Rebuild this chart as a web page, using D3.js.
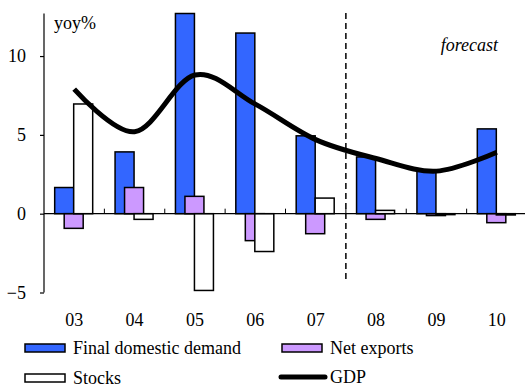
<!DOCTYPE html>
<html><head><meta charset="utf-8">
<script src="https://cdn.jsdelivr.net/npm/d3@7"></script>
<style>
body{margin:0;background:#fff;}
svg text{font-family:'Liberation Serif','Times New Roman',serif !important;}
</style></head>
<body><svg id="c" width="525" height="385" font-family="Liberation Serif"></svg>
<script>
const categories = ["03","04","05","06","07","08","09","10"];
const finalDomesticDemand = [1.66, 3.92, 12.7, 11.46, 4.94, 3.6, 2.7, 5.38];
const netExports = [-0.93, 1.66, 1.1, -1.71, -1.27, -0.36, -0.12, -0.57];
const stocks = [6.96, -0.36, -4.87, -2.4, 0.99, 0.21, -0.06, -0.08];
const gdp = [7.9, 5.2, 8.8, 6.95, 4.7, 3.5, 2.7, 3.9];
const yTicks = [-5, 0, 5, 10];

const FONT = "'Liberation Serif'";
const svg = d3.select("#c");
const x = d3.scaleBand().domain(categories).range([44, 527]).padding(0);
const y = d3.scaleLinear().domain([-5, 12.7]).range([292.5, 13.5]);
const bw = x.bandwidth();
const barW = 19;
const cx = d => x(d) + bw / 2;

function txt(sel) {
  return sel.style("font-family", FONT).style("font-size", "18px").attr("fill", "#000");
}

// bars
const series = [
  {vals: finalDomesticDemand, fill: "#3366FF", off: -19.5},
  {vals: netExports, fill: "#CC99FF", off: -10},
  {vals: stocks, fill: "#FFFFFF", off: -0.5}
];
series.forEach(s => {
  svg.append("g").selectAll("rect").data(categories).join("rect")
    .attr("x", (d) => cx(d) + s.off)
    .attr("width", barW)
    .attr("y", (d, i) => y(Math.max(0, s.vals[i])))
    .attr("height", (d, i) => Math.abs(y(s.vals[i]) - y(0)))
    .attr("fill", s.fill)
    .attr("stroke", "#000")
    .attr("stroke-width", 1.5);
});

// zero axis line
svg.append("line").attr("x1", 44).attr("x2", 527).attr("y1", y(0)).attr("y2", y(0))
  .attr("stroke", "#000").attr("stroke-width", 1.2);
// x ticks at band boundaries
svg.append("g").selectAll("line").data(categories.slice(1)).join("line")
  .attr("x1", d => x(d)).attr("x2", d => x(d))
  .attr("y1", y(0)).attr("y2", y(0) - 5)
  .attr("stroke", "#000").attr("stroke-width", 1);

// y axis
const yAxis = d3.axisLeft(y).tickValues(yTicks).tickSize(4).tickPadding(14).tickFormat(d3.format("d"));
const ga = svg.append("g").attr("transform", "translate(44,0)").call(yAxis);
ga.attr("font-family", null).attr("font-size", null);
ga.select(".domain").attr("stroke-width", 1.2).attr("d", `M0,${y(12.7)}V${y(-5)}`);
txt(ga.selectAll(".tick text"));
ga.selectAll(".tick line").attr("stroke-width", 1.2);

// x labels
txt(svg.append("g").selectAll("text").data(categories).join("text")
  .attr("x", d => cx(d)).attr("y", 326).attr("text-anchor", "middle").text(d => d));

// GDP line
const line = d3.line().x((d, i) => cx(categories[i])).y(d => y(d)).curve(d3.curveCardinal.tension(0));
svg.append("path").datum(gdp).attr("d", line).attr("fill", "none")
  .attr("stroke", "#000").attr("stroke-width", 5).attr("stroke-linejoin", "round");

// forecast divider
svg.append("line").attr("x1", x("08")).attr("x2", x("08")).attr("y1", 13).attr("y2", 280)
  .attr("stroke", "#000").attr("stroke-width", 1.5).attr("stroke-dasharray", "6,4");

txt(svg.append("text").attr("x", 54).attr("y", 29).text("yoy%"));
txt(svg.append("text").attr("x", 498).attr("y", 51).attr("text-anchor", "end")
  .style("font-style", "italic").text("forecast"));

// legend
const leg = [
  {t: "Final domestic demand", fill: "#3366FF", x: 25, y: 344},
  {t: "Net exports", fill: "#CC99FF", x: 282, y: 344},
  {t: "Stocks", fill: "#FFFFFF", x: 25, y: 374}
];
leg.forEach(l => {
  svg.append("rect").attr("x", l.x).attr("y", l.y).attr("width", 40).attr("height", 8)
    .attr("fill", l.fill).attr("stroke", "#000").attr("stroke-width", 1.5);
  txt(svg.append("text").attr("x", l.x + 48).attr("y", l.y + 10).text(l.t));
});
svg.append("line").attr("x1", 281).attr("x2", 325).attr("y1", 377).attr("y2", 377)
  .attr("stroke", "#000").attr("stroke-width", 5).attr("stroke-linecap", "round");
txt(svg.append("text").attr("x", 330).attr("y", 383).text("GDP"));
</script></body></html>
